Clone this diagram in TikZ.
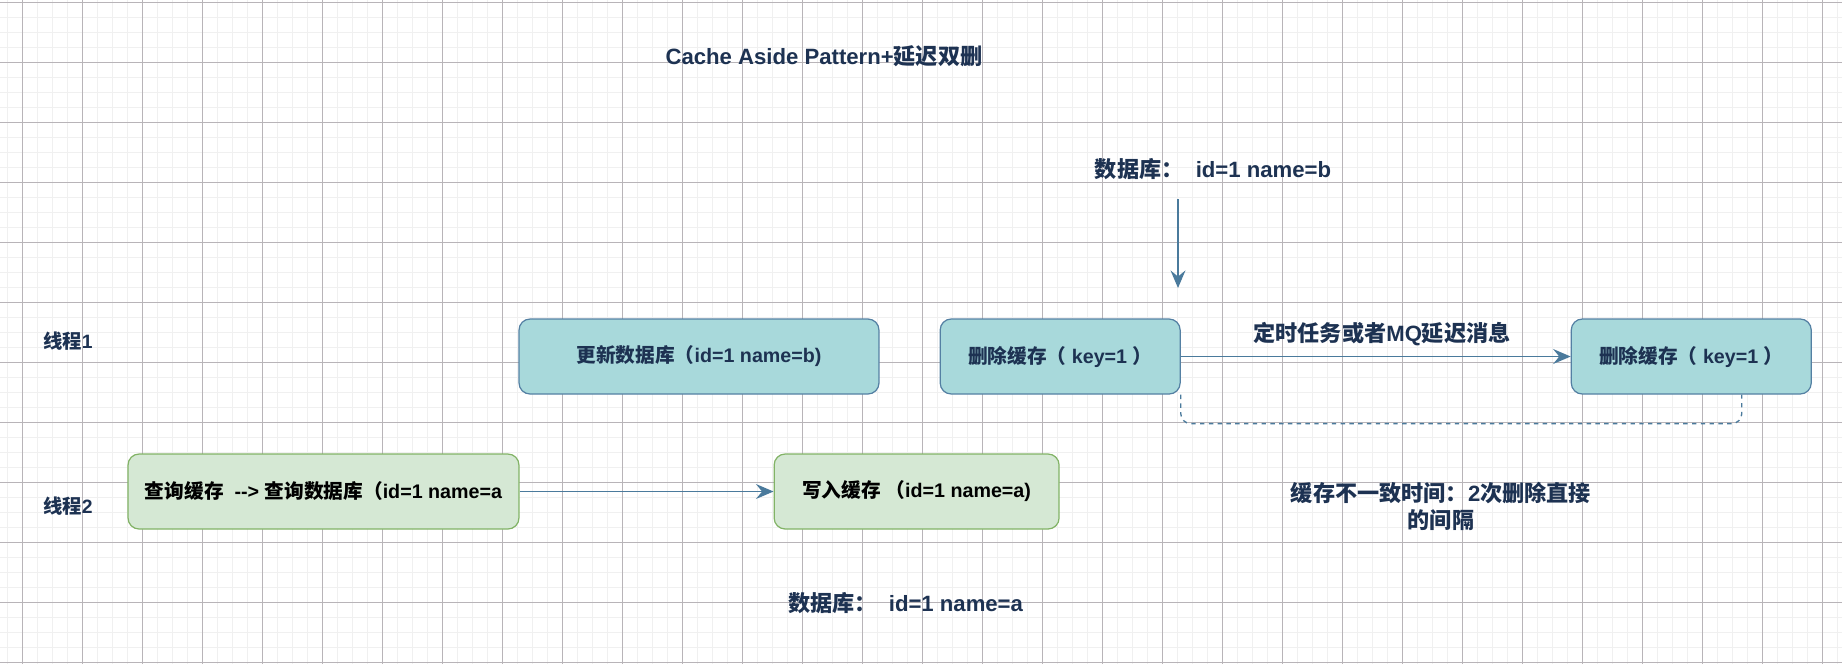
\documentclass[tikz,border=0pt]{standalone}
\usepackage{fontspec}
\usepackage{xcolor}
\setmainfont{Liberation Sans}
\newfontfamily\cjk{Noto Sans CJK SC}
\newcommand{\zh}[1]{{\cjk #1}}
\usetikzlibrary{positioning,arrows.meta,calc}

\definecolor{tealfill}{RGB}{168,217,219}
\definecolor{tealline}{RGB}{84,128,163}
\definecolor{greenfill}{RGB}{213,232,212}
\definecolor{greenline}{RGB}{130,179,102}
\definecolor{navy}{RGB}{29,50,82}
\definecolor{flowline}{RGB}{74,122,156}
\definecolor{minorgrid}{RGB}{240,240,240}
\definecolor{majorgrid}{RGB}{184,180,184}

\begin{document}
\begin{tikzpicture}[x=0.02cm,y=-0.02cm,
    box/.style={rectangle,rounded corners=0.22cm,draw,line width=0.7pt,minimum height=1.5cm,
                inner sep=0pt,font=\bfseries\fontsize{11.2}{13}\selectfont},
    tealbox/.style={box,fill=tealfill,draw=tealline,text=navy},
    greenbox/.style={box,fill=greenfill,draw=greenline,text=black},
    lbl/.style={text=navy,align=center,inner sep=0pt,font=\bfseries\fontsize{12.6}{15.3}\selectfont},
    small lbl/.style={lbl,font=\bfseries\fontsize{11}{13}\selectfont},
    flow/.style={draw=flowline,line width=0.9pt,-{Stealth[length=10pt,width=8.5pt,inset=3.5pt]}}]

  % grid paper
  \useasboundingbox (0,0) rectangle (1842,664);
  \fill[white] (0,0) rectangle (1842,664);
  \foreach \i in {0,...,122} \draw[minorgrid,line width=0.75pt] (7.3+15*\i,0) -- (7.3+15*\i,664);
  \foreach \j in {0,...,44} \draw[minorgrid,line width=0.75pt] (0,2.3+15*\j) -- (1842,2.3+15*\j);
  \foreach \i in {0,...,30} \draw[majorgrid,line width=0.4pt] (22.3+60*\i,0) -- (22.3+60*\i,664);
  \foreach \j in {0,...,11} \draw[majorgrid,line width=0.4pt] (0,2.3+60*\j) -- (1842,2.3+60*\j);

  \node[lbl] (Title) at (824,56) {Cache Aside Pattern+\zh{延迟双删}};

  % thread 1
  \node[small lbl] (T1) at (68,341) {\zh{线程}1};
  \node[tealbox,minimum width=7.2cm] (U1) at (699,356.5) {\zh{更新数据库（}id=1 name=b)};
  \node[tealbox,minimum width=4.8cm,right=1.2cm of U1] (D1) {\zh{删除缓存（} key=1 \zh{）}};
  \node[tealbox,minimum width=4.8cm,right=7.8cm of D1] (D2) {\zh{删除缓存（} key=1 \zh{）}};

  % thread 2
  \node[small lbl] (T2) at (68,506) {\zh{线程}2};
  \node[greenbox,minimum width=7.82cm] (Q2) at (323.5,491.5) {\zh{查询缓存}\ \ -{}-{}> \zh{查询数据库（}id=1 name=a};
  \node[greenbox,minimum width=5.7cm,right=5.08cm of Q2] (W2) {\zh{写入缓存 （}id=1 name=a)};

  \node[lbl] (DBb) at (1213,169) {\zh{数据库：}\ \ id=1 name=b};
  \node[lbl] (DBa) at (905.5,603) {\zh{数据库：}\ \ id=1 name=a};
  \node[lbl] (Msg) at (1382,334) {\zh{定时任务或者}MQ\zh{延迟消息}};
  \node[lbl] (Gap) at (1441,506.5) {\zh{缓存不一致时间：}2\zh{次删除直接}\\\zh{的间隔}};

  \coordinate (A1) at (1178,199);
  \coordinate (A2) at (1178,288);
  \draw[flow] (A1) -- (A2);

  \draw[flow] (D1) -- (D2);
  \draw[flow] (Q2) -- (W2);

  \draw[flowline,line width=0.75pt,dash pattern=on 2.5pt off 2.5pt,rounded corners=0.2cm]
    (D1.south east) -- ++(0,29) -| ($(D2.south)+(50.5,0)$);
\end{tikzpicture}
\end{document}
